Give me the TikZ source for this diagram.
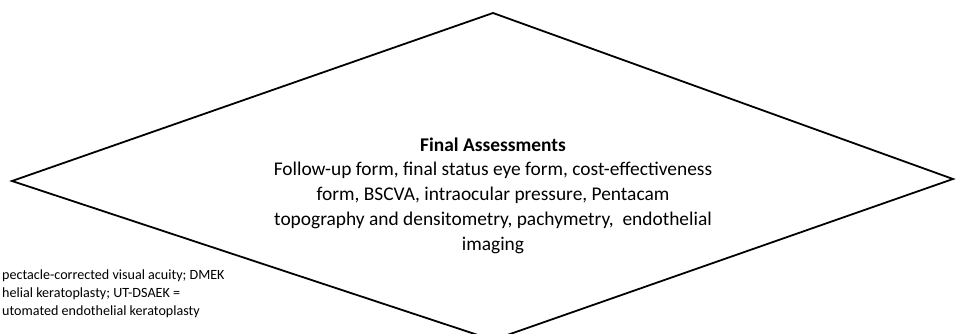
\documentclass[tikz,border=0pt]{standalone}
\usepackage{fontspec}
\setmainfont{Carlito}
\begin{document}
\begin{tikzpicture}[x=1pt,y=1pt,
  outline/.style={draw=black,line width=1.8pt,line join=miter},
  maintext/.style={align=center,inner sep=0pt,font=\fontsize{19.4}{24.7}\selectfont},
  notetext/.style={align=left,inner sep=0pt,font=\fontsize{14.1}{18}\selectfont}]
\useasboundingbox (0,0) rectangle (964,333);
\clip (0,0) rectangle (964,333);
\coordinate (top) at (493,320);
\coordinate (left) at (12,152);
\coordinate (right) at (953,154);
\coordinate (bottom) at (493,-7);
\draw[outline] (top) -- (right) -- (bottom) -- (left) -- cycle;
\node[maintext,anchor=base] (assess) at (493,83)
  {\textbf{Final Assessments}\\
   Follow-up form, final status eye form, cost-effectiveness\\
   form, BSCVA, intraocular pressure, Pentacam\\
   topography and densitometry, pachymetry,\ \ endothelial\\
   imaging};
\node[notetext,anchor=base west] (note) at (2,18)
  {pectacle-corrected visual acuity; DMEK\\
   helial keratoplasty; UT-DSAEK =\\
   utomated endothelial keratoplasty};
\end{tikzpicture}
\end{document}
